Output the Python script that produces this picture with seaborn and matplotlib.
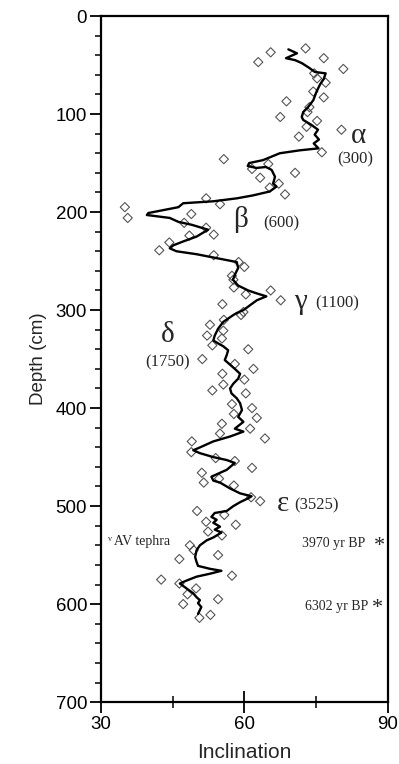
import matplotlib
matplotlib.use('Agg')
import matplotlib.pyplot as plt
import seaborn as sns
import pandas as pd
from matplotlib.ticker import MultipleLocator, FixedLocator

# smoothed inclination curve (depth in cm, inclination in degrees)
line_depth = [34, 38, 43, 45, 48, 53, 57, 58.5, 64, 70, 77, 86, 93, 98, 103, 106, 111,
              116, 121, 126, 130, 135, 137, 140, 147, 150, 153, 155, 154, 157, 164, 171,
              174, 179, 183, 186, 189, 191, 195, 198, 201, 203, 206, 210, 213, 217, 218,
              225, 230, 234, 237, 240, 243, 247, 251, 257, 264, 269, 275, 280, 283, 286,
              290, 295, 300, 303, 305, 312, 319, 326, 331, 334, 337, 341, 346, 351, 354,
              360, 365, 370, 375, 380, 385, 390, 395, 402, 409, 414, 421, 424, 429, 434,
              441, 443, 446, 450, 453, 456, 463, 470, 474, 476, 482, 487, 490, 492, 496,
              500, 505, 507, 511, 514, 517, 521, 524, 527, 532, 535, 540, 545, 552, 557,
              561, 564, 566, 569, 572, 576, 579, 584, 589, 593, 596, 599, 603, 606, 610]
line_incl = [69.2, 71.0, 68.7, 70.6, 72.0, 73.6, 74.7, 77.0, 76.6, 75.8, 75.1, 74.4, 73.3,
             72.3, 72.0, 72.3, 74.0, 75.4, 74.7, 75.6, 74.5, 75.5, 71.6, 67.4, 63.9, 61.0,
             60.7, 62.5, 64.5, 65.7, 66.4, 66.0, 66.7, 65.3, 61.8, 58.4, 53.5, 47.2, 46.2,
             43.0, 39.9, 39.6, 44.4, 46.2, 49.0, 51.7, 52.4, 50.0, 47.2, 45.1, 44.4, 45.8,
             50.0, 54.2, 58.4, 58.7, 58.0, 57.6, 58.7, 60.8, 62.6, 64.6, 62.6, 61.2, 59.8,
             58.4, 57.7, 55.6, 54.5, 53.8, 53.5, 54.5, 55.6, 56.6, 56.3, 55.9, 56.6, 58.0,
             59.1, 58.7, 57.7, 57.0, 57.3, 58.4, 59.1, 59.5, 58.7, 59.8, 58.0, 59.8, 57.0,
             53.5, 50.3, 49.3, 50.7, 53.5, 56.3, 58.0, 56.3, 53.1, 53.5, 54.9, 57.0, 59.1,
             61.5, 60.8, 59.1, 57.7, 56.3, 53.8, 53.1, 54.2, 53.5, 54.9, 53.8, 55.2, 53.5,
             52.1, 50.7, 50.0, 49.7, 50.0, 50.3, 52.8, 55.2, 52.8, 50.0, 47.9, 46.5, 47.9,
             49.3, 50.0, 50.7, 50.3, 51.0, 50.7, 50.3]

# individual sample measurements
pt_depth = [47, 37, 33, 43, 54, 58.5, 63.6, 68, 77, 83, 87, 93, 98, 103, 107, 113, 116,
            123, 139, 146, 151, 156, 160, 165, 171, 175, 182, 186, 192, 195, 206, 202,
            211, 216, 223, 224, 231, 239, 244, 251, 256, 265, 269, 277, 280, 284, 290,
            294, 302, 305, 310, 315, 321, 326, 329, 336, 340, 350, 355, 360, 365, 371,
            376, 382, 385, 396, 400, 406, 410, 416, 421, 426, 431, 434, 445, 451, 454,
            461, 466, 472, 476, 479, 491, 495, 505, 509, 516, 519, 526, 530, 540, 545,
            550, 554, 571, 575, 579, 584, 590, 595, 600, 611, 614]
pt_incl = [62.9, 65.5, 72.8, 76.6, 80.7, 74.6, 75.2, 77.0, 74.4, 76.6, 68.8, 73.6, 73.2,
           67.5, 75.2, 73.0, 80.3, 71.4, 76.2, 55.7, 65.0, 61.6, 70.6, 63.3, 67.2, 65.3,
           68.5, 52.0, 54.9, 35.0, 35.6, 48.9, 47.4, 52.0, 53.6, 48.5, 44.3, 42.2, 53.6,
           58.8, 60.0, 57.4, 57.7, 57.8, 65.5, 60.3, 67.6, 55.4, 59.8, 59.3, 55.7, 52.8,
           55.6, 52.2, 55.3, 53.3, 60.8, 51.2, 58.0, 61.9, 55.4, 60.0, 55.6, 53.3, 60.3,
           57.4, 61.6, 57.8, 62.6, 55.3, 61.2, 54.9, 64.3, 49.0, 48.9, 54.0, 58.0, 61.6,
           51.1, 54.7, 51.5, 57.8, 61.4, 63.3, 50.1, 55.8, 52.0, 58.2, 52.4, 55.3, 48.6,
           49.4, 54.5, 46.4, 57.4, 42.6, 46.4, 49.9, 48.1, 54.5, 47.2, 52.9, 50.6]

# inclination features and ages
feat_label = ['\u03b1', '\u03b2', '\u03b3', '\u03b4', '\u03b5']
feat_age = ['(300)', '(600)', '(1100)', '(1750)', '(3525)']

line_df = pd.DataFrame({'incl': line_incl, 'depth': line_depth})
pt_df = pd.DataFrame({'incl': pt_incl, 'depth': pt_depth})

sns.set_style('ticks')
plt.rcParams['font.family'] = ['Liberation Sans', 'DejaVu Sans']

fig = plt.figure(figsize=(3.99, 7.64), dpi=100)
ax = fig.add_axes([0.253, 0.081, 0.719, 0.898])

sns.scatterplot(data=pt_df, x='incl', y='depth', marker='D', s=22,
                facecolor='none', edgecolor='#555555', linewidth=0.8, ax=ax, zorder=2)
sns.lineplot(data=line_df, x='incl', y='depth', sort=False, estimator=None,
             color='black', linewidth=1.7, ax=ax, zorder=3)

ax.set_xlim(30, 90)
ax.set_ylim(700, 0)
for sp in ax.spines.values():
    sp.set_visible(True)
    sp.set_linewidth(1.6)
    sp.set_color('black')

ax.xaxis.set_major_locator(FixedLocator([30, 60, 90]))
ax.xaxis.set_minor_locator(FixedLocator([45, 75]))
ax.yaxis.set_major_locator(MultipleLocator(100))
ax.yaxis.set_minor_locator(MultipleLocator(20))
ax.tick_params(axis='x', which='major', direction='inout', length=16, width=1.3,
               labelsize=13.5, pad=2, colors='black')
ax.tick_params(axis='x', which='minor', direction='inout', length=8, width=1.3)
ax.tick_params(axis='y', which='major', direction='out', length=8, width=1.3,
               labelsize=13.5, pad=2, colors='black')
ax.tick_params(axis='y', which='minor', direction='out', length=4.5, width=1.3)

ax.set_xlabel('Inclination', fontsize=15, labelpad=7)
ax.set_ylabel('Depth (cm)', fontsize=13.5, labelpad=6)

serif = ['Liberation Serif', 'DejaVu Serif']
big = 21
small = 12
# greek labels with ages
ax.text(83.8, 122, feat_label[0], fontsize=big, family=serif, ha='center', va='center')
ax.text(83.2, 146, feat_age[0], fontsize=small, family=serif, ha='center', va='center')
ax.text(59.1, 208, feat_label[1], fontsize=big, family=serif, ha='center', va='center')
ax.text(67.8, 212, feat_age[1], fontsize=small, family=serif, ha='center', va='center')
ax.text(71.8, 292, feat_label[2], fontsize=big, family=serif, ha='center', va='center')
ax.text(79.5, 293, feat_age[2], fontsize=small, family=serif, ha='center', va='center')
ax.text(44.0, 325, feat_label[3], fontsize=big, family=serif, ha='center', va='center')
ax.text(43.9, 353, feat_age[3], fontsize=small, family=serif, ha='center', va='center')
ax.text(68.0, 498, feat_label[4], fontsize=big, family=serif, ha='center', va='center')
ax.text(75.1, 499, feat_age[4], fontsize=small, family=serif, ha='center', va='center')

ax.text(31.2, 536, '\u1d5b AV tephra', fontsize=10, family=serif, ha='left', va='center')
ax.text(78.6, 538, '3970 yr BP', fontsize=10, family=serif, ha='center', va='center')
ax.text(88.2, 541.5, '*', fontsize=16, family=serif, ha='center', va='center')
ax.text(79.3, 602, '6302 yr BP', fontsize=10, family=serif, ha='center', va='center')
ax.text(87.9, 604.5, '*', fontsize=16, family=serif, ha='center', va='center')

plt.savefig('out.png', dpi=100)
plt.close()
